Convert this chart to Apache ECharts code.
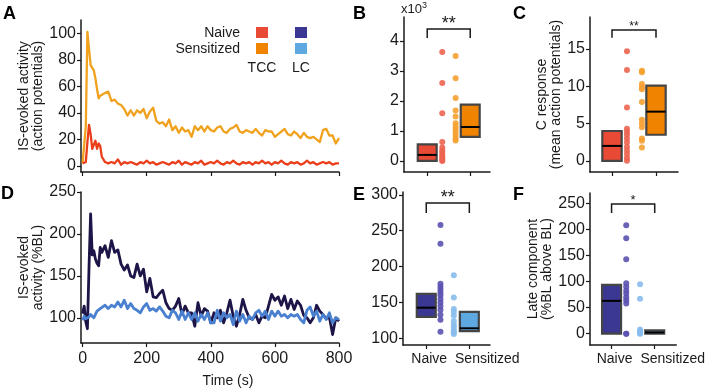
<!DOCTYPE html>
<html>
<head>
<meta charset="utf-8">
<script src="https://cdn.jsdelivr.net/npm/echarts@6/dist/echarts.min.js"></script>
<style>
  html, body { margin: 0; padding: 0; background: #fff; }
  #chart { width: 708px; height: 389px; }
</style>
</head>
<body>
<div id="chart"></div>
<script>
// time points (s) of the traces in A and D
var timePts = [0, 5, 10, 15, 20, 25, 30, 35, 40, 45, 50, 55, 60,
  70, 80, 90, 100, 110, 120, 130, 140, 150, 160, 170, 180, 190, 200,
  210, 220, 230, 240, 250, 260, 270, 280, 290, 300, 310, 320, 330, 340,
  350, 360, 370, 380, 390, 400, 410, 420, 430, 440, 450, 460, 470, 480,
  490, 500, 510, 520, 530, 540, 550, 560, 570, 580, 590, 600, 610, 620,
  630, 640, 650, 660, 670, 680, 690, 700, 710, 720, 730, 740, 750, 760,
  770, 780, 790, 800];

// A: action potentials, TCC
var tccNaive = [2, 1, 3, 18, 31, 24, 13, 16, 19, 13, 17, 15, 7,
  3, 2, 3, 2, 5, 1, 3, 2, 3, 2,
  1, 3, 2, 4, 2, 3, 1, 2, 3, 2,
  1, 3, 2, 4, 1, 3, 2, 1, 3, 2,
  4, 1, 2, 3, 2, 4, 2, 1, 3, 2,
  4, 2, 1, 3, 2, 3, 1, 3, 2, 4,
  2, 3, 1, 3, 2, 4, 2, 1, 3, 2,
  3, 1, 2, 4, 2, 3, 1, 2, 3, 2,
  3, 1, 2, 2];
var tccSens = [2, 3, 30, 101, 88, 76, 74, 72, 66, 58, 51, 53, 52,
  55, 56, 49, 50, 47, 46, 43, 38, 42, 38,
  42, 40, 43, 36, 41, 44, 34, 32, 33, 30,
  35, 27, 30, 25, 29, 26, 27, 22, 30, 27,
  30, 26, 30, 27, 26, 29, 30, 26, 25, 28,
  29, 31, 26, 25, 27, 26, 25, 28, 25, 23,
  27, 26, 26, 22, 24, 26, 28, 24, 23, 26,
  24, 21, 25, 22, 21, 22, 20, 18, 27, 28,
  23, 23, 17, 21];

// D: %BL, LC
var lcNaive = [105, 114, 95, 87, 160, 224, 175, 180, 170, 165, 162, 184, 178,
  186, 172, 192, 178, 181, 164, 157, 163, 150, 148,
  164, 150, 158, 131, 147, 125, 124, 129, 133, 118,
  111, 109, 114, 123, 104, 114, 106, 106, 90, 118,
  102, 111, 108, 94, 106, 100, 109, 94, 106, 121,
  102, 90, 104, 122, 109, 100, 98, 104, 94, 102,
  100, 114, 128, 121, 125, 115, 126, 111, 122, 110,
  120, 115, 103, 100, 94, 100, 115, 108, 104, 99,
  101, 80, 100, 96];
var lcSens = [97, 102, 99, 98, 101, 104, 102, 100, 104, 108, 110, 111, 113,
  115, 111, 115, 113, 119, 113, 121, 111, 117, 111,
  109, 106, 113, 117, 109, 111, 108, 113, 108, 102,
  100, 109, 106, 98, 108, 98, 106, 98, 106, 96,
  104, 98, 106, 94, 94, 109, 96, 106, 100, 104,
  92, 108, 96, 104, 94, 102, 98, 106, 109, 102,
  108, 98, 108, 102, 108, 102, 104, 100, 104, 102,
  104, 98, 94, 109, 113, 102, 108, 96, 104, 98,
  106, 94, 100, 98];

// B: total response (x10^3)
var bNaive = [3.63, 2.6, 1.59, 0.63, 0.45, 0.35, 0.28, 0.2, 0.14, 0.08, 0.03, 0.0];
var bSens = [3.5, 2.76, 2.1, 1.68, 1.48, 1.26, 1.15, 1.05, 0.95, 0.85, 0.75, 0.68];
var bBox = [[0, 0.2, 0.55], [0.8, 1.13, 1.88]];   // [q1, median, q3] naive, sensitized

// C: C response
var cNaive = [14.7, 12.2, 7.15, 4.3, 3.9, 3.5, 3.0, 2.5, 1.9, 1.4, 0.9, 0.4, 0];
var cSens = [12.1, 11.9, 10.3, 9.9, 9.6, 7.9, 5.5, 5.0, 4.5, 3.0, 2.7, 1.8];
var cBox = [[0, 2.0, 4.0], [3.5, 6.6, 10.1]];

// E: IS-evoked activity (%BL)
var eNaive = [258, 232, 176, 172, 168, 164, 160, 155, 150, 145, 140, 133, 126, 109];
var eSens = [188, 157, 141, 137, 132, 124, 119, 115, 111, 108, 106];
var eBox = [[130, 142.7, 162], [110, 114, 137]];

// F: late component
var fNaive = [208, 183, 143, 97, 90, 83, 77, 70, 64, 58, 0, 0];
var fSens = [95, 67, 8, 5, 3, 1, 0];
var fBox = [[0, 63, 93.5], [0, 2.5, 6.3]];

var groups = ['Naive', 'Sensitized'];
var timeTicks = [0, 200, 400, 600, 800];

var FONT = '"Liberation Sans", Arial, sans-serif';
var INK = '#1a1a1a';
var col = {
  tccN: '#e84a35', tccS: '#f08400', lcN: '#3b3893', lcS: '#5ea8e2',
  tccNpt: '#ec6450', tccSpt: '#f5a030', lcNpt: '#5a52b0', lcSpt: '#88bdec',
  tccNline: '#ea3f1a', tccSline: '#f0a21e', lcNline: '#1d1447', lcSline: '#4a80d0'
};

function pairs(xs, ys) {
  return ys.map(function (v, i) { return [xs[i], v]; });
}
function atX(x, ys) {
  return ys.map(function (v) { return [x, v]; });
}

function xAx(grid, min, max, ticks, labels) {
  return {
    type: 'value', gridIndex: grid, min: min, max: max,
    splitLine: { show: false },
    axisLine: { onZero: false, lineStyle: { color: INK, width: 1.5 } },
    axisTick: { customValues: ticks, length: 4, lineStyle: { color: INK, width: 1.2 } },
    axisLabel: labels ? Object.assign({ customValues: ticks, color: INK, fontFamily: FONT }, labels) : { show: false }
  };
}
function yAx(grid, min, max, ticks, name, gap) {
  var ax = {
    type: 'value', gridIndex: grid, min: min, max: max,
    splitLine: { show: false },
    axisLine: { onZero: false, lineStyle: { color: INK, width: 1.5 } },
    axisTick: { customValues: ticks, length: 4, lineStyle: { color: INK, width: 1.2 } },
    axisLabel: { customValues: ticks, color: INK, fontFamily: FONT, fontSize: 16, margin: 5 }
  };
  if (name) {
    ax.name = name;
    ax.nameLocation = 'middle';
    ax.nameRotate = 90;
    ax.nameGap = gap;
    ax.nameTextStyle = { color: INK, fontFamily: FONT, fontSize: 14, lineHeight: 14 };
  }
  return ax;
}

var catLabels = {
  fontSize: 14, margin: 7,
  formatter: function (v) { return v === 1 ? '{n|' + groups[0] + '}' : '{s|' + groups[1] + '}'; },
  rich: {
    n: { fontSize: 14, color: INK, fontFamily: FONT, padding: [0, 0, 0, 6] },
    s: { fontSize: 14, color: INK, fontFamily: FONT, padding: [0, 0, 0, 36] }
  }
};

function boxSeries(axis, box, fills) {
  return {
    type: 'custom', xAxisIndex: axis, yAxisIndex: axis, z: 3,
    data: box.map(function (b, i) { return [i + 1, b[0], b[1], b[2]]; }),
    renderItem: function (params, api) {
      var x = api.value(0), hw = 0.22;
      var a = api.coord([x - hw, api.value(3)]);
      var b = api.coord([x + hw, api.value(1)]);
      var m1 = api.coord([x - hw, api.value(2)]);
      var m2 = api.coord([x + hw, api.value(2)]);
      return {
        type: 'group', children: [
          { type: 'rect', shape: { x: a[0], y: a[1], width: b[0] - a[0], height: b[1] - a[1] },
            style: { fill: fills[params.dataIndex], stroke: '#454545', lineWidth: 2.2 } },
          { type: 'line', shape: { x1: m1[0], y1: m1[1], x2: m2[0], y2: m2[1] },
            style: { stroke: '#000', lineWidth: 2 } }
        ]
      };
    }
  };
}

function dots(axis, x, vals, color) {
  return {
    type: 'scatter', xAxisIndex: axis, yAxisIndex: axis, z: 4,
    symbolSize: 6, itemStyle: { color: color, opacity: 0.9 },
    data: atX(x, vals)
  };
}

// significance bracket: [yLine, yEnd], star text
function bracket(axis, yLine, yEnd, stars, size) {
  return {
    type: 'custom', xAxisIndex: axis, yAxisIndex: axis, z: 5,
    data: [[1, 2, yLine, yEnd]],
    renderItem: function (params, api) {
      var p1 = api.coord([api.value(0), api.value(3)]);
      var p2 = api.coord([api.value(0), api.value(2)]);
      var p3 = api.coord([api.value(1), api.value(2)]);
      var p4 = api.coord([api.value(1), api.value(3)]);
      return {
        type: 'group', children: [
          { type: 'polyline', shape: { points: [p1, p2, p3, p4] },
            style: { stroke: INK, lineWidth: 1.5, fill: null } },
          { type: 'text', x: (p2[0] + p3[0]) / 2, y: p2[1] + size * 0.25,
            style: { text: stars, fontSize: size, fontFamily: FONT, fill: INK,
              align: 'center', verticalAlign: 'bottom' } }
        ]
      };
    }
  };
}

function lineSeries(axis, ys, color, w) {
  return {
    type: 'line', xAxisIndex: axis, yAxisIndex: axis,
    showSymbol: false, data: pairs(timePts, ys),
    lineStyle: { color: color, width: w, join: 'round' }, itemStyle: { color: color }
  };
}

function letter(t, x, y) {
  return { type: 'text', left: x, top: y,
    style: { text: t, fontSize: 18, fontWeight: 'bold', fontFamily: FONT, fill: '#000' } };
}
function plain(t, x, y, align) {
  return { type: 'text', x: x, y: y,
    style: { text: t, fontSize: 14, fontFamily: FONT, fill: INK, align: align, verticalAlign: 'middle' } };
}
function square(x, y, color) {
  return { type: 'rect', shape: { x: x, y: y, width: 12, height: 11 }, style: { fill: color } };
}

var option = {
  animation: false,
  backgroundColor: '#fff',
  grid: [
    { left: 81, top: 20, width: 258, height: 152 },   // A
    { left: 81, top: 192, width: 258, height: 154 },  // D
    { left: 404, top: 17, width: 86, height: 155 },   // B
    { left: 590, top: 17, width: 88, height: 155 },   // C
    { left: 403, top: 192, width: 87, height: 153 },  // E
    { left: 590, top: 193, width: 88, height: 152 }   // F
  ],
  xAxis: [
    xAx(0, -5, 800, timeTicks, null),
    Object.assign(xAx(1, -5, 800, timeTicks, { fontSize: 16, margin: 8 }), {
      name: 'Time (s)', nameLocation: 'middle', nameGap: 31,
      nameTextStyle: { color: INK, fontFamily: FONT, fontSize: 14, padding: [0, 0, 0, 36] }
    }),
    xAx(2, 0.46, 2.46, [1, 2], null),
    xAx(3, 0.5, 2.5, [1, 2], null),
    xAx(4, 0.46, 2.48, [1, 2], catLabels),
    xAx(5, 0.5, 2.5, [1, 2], catLabels)
  ],
  yAxis: [
    yAx(0, -4.5, 110, [0, 20, 40, 60, 80, 100], 'IS-evoked activity\n(action potentials)', 33),
    yAx(1, 70, 250, [100, 150, 200, 250], 'IS-evoked\nactivity (%BL)', 36),
    yAx(2, -0.37, 4.8, [0, 1, 2, 3, 4], null),
    yAx(3, -1.5, 19.3, [0, 5, 10, 15], 'C response\n(mean action potentials)', 25),
    yAx(4, 90.7, 304, [100, 150, 200, 250, 300], null),
    yAx(5, -21.7, 270, [0, 50, 100, 150, 200, 250], 'Late component\n(%BL above BL)', 35)
  ],
  series: [
    lineSeries(0, tccSens, col.tccSline, 2.3),
    lineSeries(0, tccNaive, col.tccNline, 2.3),
    lineSeries(1, lcNaive, col.lcNline, 2.8),
    lineSeries(1, lcSens, col.lcSline, 2.8),

    boxSeries(2, bBox, [col.tccN, col.tccS]),
    dots(2, 1.35, bNaive, col.tccNpt),
    dots(2, 1.66, bSens, col.tccSpt),
    bracket(2, 4.4, 4.1, '**', 18),

    boxSeries(3, cBox, [col.tccN, col.tccS]),
    dots(3, 1.34, cNaive, col.tccNpt),
    dots(3, 1.68, cSens, col.tccSpt),
    bracket(3, 17.55, 16.5, '**', 12),

    boxSeries(4, eBox, [col.lcN, col.lcS]),
    dots(4, 1.33, eNaive, col.lcNpt),
    dots(4, 1.64, eSens, col.lcSpt),
    bracket(4, 288.7, 274.7, '**', 18),

    boxSeries(5, fBox, [col.lcN, col.lcS]),
    dots(5, 1.34, fNaive, col.lcNpt),
    dots(5, 1.66, fSens, col.lcSpt),
    bracket(5, 248.9, 231.6, '*', 13)
  ],
  graphic: [
    letter('A', 3, 5), letter('B', 353, 5), letter('C', 513, 5),
    letter('D', 1, 185), letter('E', 353, 186), letter('F', 513, 186),
    { type: 'text', left: 401, top: 1,
      style: { text: '{a|x10}{b|3}', fontFamily: FONT, fill: INK,
        rich: { a: { fontSize: 13, fontFamily: FONT, fill: INK },
                b: { fontSize: 9, fontFamily: FONT, fill: INK, padding: [0, 0, 8, 0] } } } },
    plain(groups[0], 240, 33, 'right'),
    plain(groups[1], 240, 49, 'right'),
    square(256, 27, col.tccN), square(256, 43, col.tccS),
    square(295, 27, col.lcN), square(295, 43, col.lcS),
    plain('TCC', 262, 68, 'center'),
    plain('LC', 301, 68, 'center')
  ]
};

var chart = echarts.init(document.getElementById('chart'));
chart.setOption(option);
</script>
</body>
</html>
